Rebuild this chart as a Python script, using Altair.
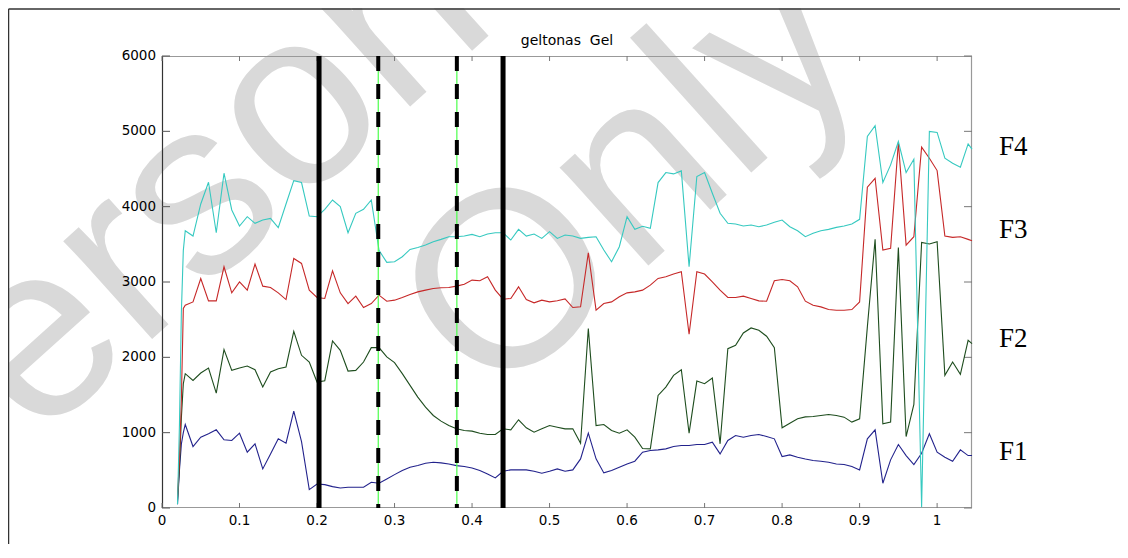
import altair as alt
import pandas as pd

# ---------------- data ----------------
times = [0.02, 0.0225, 0.025, 0.0275,
         0.03, 0.04, 0.05, 0.06, 0.07, 0.08, 0.09, 0.10, 0.11, 0.12,
         0.13, 0.14, 0.15, 0.16, 0.17, 0.18, 0.19, 0.20, 0.21, 0.22,
         0.23, 0.24, 0.25, 0.26, 0.27, 0.28, 0.29, 0.30, 0.31, 0.32,
         0.33, 0.34, 0.35, 0.36, 0.37, 0.38, 0.39, 0.40, 0.41, 0.42,
         0.43, 0.44, 0.45, 0.46, 0.47, 0.48, 0.49, 0.50, 0.51, 0.52,
         0.53, 0.54, 0.55, 0.56, 0.57, 0.58, 0.59, 0.60, 0.61, 0.62,
         0.63, 0.64, 0.65, 0.66, 0.67, 0.68, 0.69, 0.70, 0.71, 0.72,
         0.73, 0.74, 0.75, 0.76, 0.77, 0.78, 0.79, 0.80, 0.81, 0.82,
         0.83, 0.84, 0.85, 0.86, 0.87, 0.88, 0.89, 0.90, 0.91, 0.92,
         0.93, 0.94, 0.95, 0.96, 0.97, 0.98, 0.99, 1.00, 1.01, 1.02,
         1.03, 1.04, 1.045]

F1 = [50, 500, 850, 1000,
      1109, 816, 940, 985, 1038, 905, 896, 993, 741, 852,
      519, 718, 918, 860, 1286, 880, 244, 319, 310, 284,
      266, 275, 275, 275, 341, 328, 386, 443, 497, 541,
      563, 594, 608, 599, 585, 563, 550, 532, 497, 452,
      399, 488, 506, 506, 506, 488, 461, 488, 519, 488,
      506, 652, 993, 652, 466, 497, 541, 585, 621, 740,
      763, 772, 785, 816, 829, 829, 843, 843, 874, 718,
      896, 962, 940, 962, 976, 949, 918, 683, 705, 674,
      650, 630, 621, 608, 585, 577, 550, 506, 918, 1038,
      328, 639, 843, 696, 577, 727, 985, 741, 674, 621,
      772, 696, 696]

F2 = [100, 550, 1200, 1650,
      1783, 1694, 1792, 1858, 1526, 2102, 1827, 1858, 1885, 1836,
      1605, 1805, 1849, 1872, 2346, 2027, 1938, 1672, 1690, 2218,
      2093, 1818, 1827, 1938, 2129, 2129, 2005, 1929, 1783, 1628,
      1472, 1339, 1228, 1153, 1095, 1051, 1029, 1020, 993, 976,
      976, 1051, 1038, 1171, 1064, 1007, 1051, 1095, 1073, 1051,
      1051, 860, 2382, 1095, 1109, 1029, 993, 1038, 940, 790,
      785, 1495, 1605, 1761, 1836, 993, 1685, 1650, 1725, 852,
      2115, 2160, 2324, 2390, 2359, 2280, 2129, 1064, 1126, 1184,
      1210, 1215, 1228, 1242, 1228, 1206, 1140, 1184, 2404, 3566,
      1118, 1140, 3459, 949, 1375, 3526, 3504, 3535, 1761, 1938,
      1774, 2226, 2182]

F3 = [150, 650, 1450, 2650,
      2692, 2736, 3047, 2750, 2750, 3202, 2856, 3002, 2892, 3238,
      2945, 2927, 2856, 2767, 3313, 3246, 2892, 2794, 2781, 3149,
      2856, 2714, 2812, 2661, 2714, 2825, 2745, 2759, 2794, 2834,
      2869, 2892, 2914, 2923, 2927, 2945, 2971, 3025, 3016, 3069,
      2892, 2772, 2781, 2936, 2767, 2723, 2759, 2736, 2750, 2776,
      2661, 2670, 3388, 2626, 2714, 2736, 2803, 2856, 2869, 2892,
      2958, 3047, 3069, 3105, 3136, 2306, 3136, 3105, 3002, 2892,
      2794, 2794, 2812, 2781, 2750, 2745, 3016, 3034, 3016, 2936,
      2745, 2692, 2670, 2634, 2626, 2626, 2634, 2736, 4258, 4377,
      3424, 3446, 4852, 3490, 3601, 4790, 4643, 4479, 3610, 3592,
      3601, 3566, 3548]

F4 = [50, 1100, 2600, 3420,
      3681, 3610, 4036, 4324, 3654, 4444, 3956, 3743, 3867, 3779,
      3823, 3845, 3721, 4036, 4346, 4320, 3876, 3867, 3965, 4089,
      4000, 3654, 3912, 3965, 4089, 3420, 3260, 3269, 3335, 3433,
      3459, 3490, 3535, 3566, 3601, 3601, 3610, 3632, 3601, 3637,
      3654, 3654, 3557, 3699, 3610, 3637, 3579, 3668, 3579, 3623,
      3610, 3579, 3592, 3601, 3424, 3269, 3468, 3867, 3699, 3740,
      3712, 4320, 4453, 4435, 4475, 3202, 4400, 4453, 4178, 3912,
      3779, 3770, 3743, 3756, 3734, 3756, 3792, 3823, 3734, 3681,
      3601, 3646, 3681, 3699, 3725, 3743, 3770, 3832, 4932, 5074,
      4320, 4555, 4865, 4453, 4630, 10, 4998, 4985, 4643, 4577,
      4524, 4834, 4763]

series_names = ["F1", "F2", "F3", "F4"]
series_values = [F1, F2, F3, F4]
series_colors = ["#22228c", "#1e4d1e", "#c62828", "#36c9c0"]

label_names = ["F4", "F3", "F2", "F1"]
label_levels = [4795, 3689, 2250, 744]

solid_bounds = [0.2026, 0.44]
dashed_bounds = [0.279, 0.3804]

x_ticks = [0, 0.1, 0.2, 0.3, 0.4, 0.5, 0.6, 0.7, 0.8, 0.9, 1.0]
x_tick_labels = ["0", "0.1", "0.2", "0.3", "0.4", "0.5", "0.6", "0.7", "0.8", "0.9", "1"]
y_ticks = [0, 1000, 2000, 3000, 4000, 5000, 6000]
y_tick_labels = ["0", "1000", "2000", "3000", "4000", "5000", "6000"]

title_text = "geltonas\u00a0 Gel"
watermark_words = ["Personal", "Only"]

# ---------------- chart ----------------
W, H = 810, 452
xs = alt.Scale(domain=[0, 1.045], nice=False, zero=False)
ys = alt.Scale(domain=[0, 6000], nice=False, zero=False)
one = pd.DataFrame({"k": [0]})
tick_font = dict(font="DejaVu Sans", fontSize=13.5, color="black")

layers = []

# watermark
wm_common = dict(font="Liberation Sans", fontSize=250, color="#d9d9d9",
                 angle=318, align="left", baseline="alphabetic")
layers.append(alt.Chart(pd.DataFrame({"w": [watermark_words[0]]}))
              .mark_text(**wm_common)
              .encode(text="w:N", x=alt.value(-250), y=alt.value(499)))
layers.append(alt.Chart(pd.DataFrame({"w": [watermark_words[1]]}))
              .mark_text(**wm_common)
              .encode(text="w:N", x=alt.value(329), y=alt.value(351)))

# outer figure frame (top and left edges)
layers.append(alt.Chart(one).mark_rule(color="#333333", strokeWidth=1.5)
              .encode(x=alt.value(-153.5), x2=alt.value(W + 150), y=alt.value(-47)))
layers.append(alt.Chart(one).mark_rule(color="#333333", strokeWidth=1.5)
              .encode(x=alt.value(-153.5), y=alt.value(-47), y2=alt.value(H + 40)))

# plot box: left (dark), bottom, top, right (grey)
layers.append(alt.Chart(one).mark_rule(color="#999999", strokeWidth=1.2)
              .encode(x=alt.value(0), x2=alt.value(W), y=alt.value(0.5)))
layers.append(alt.Chart(one).mark_rule(color="#999999", strokeWidth=1.2)
              .encode(x=alt.value(W - 0.5), y=alt.value(0), y2=alt.value(H)))
layers.append(alt.Chart(one).mark_rule(color="#999999", strokeWidth=1.2)
              .encode(x=alt.value(0), x2=alt.value(W), y=alt.value(H - 0.5)))
layers.append(alt.Chart(one).mark_rule(color="#333333", strokeWidth=1.2)
              .encode(x=alt.value(0.5), y=alt.value(0), y2=alt.value(H)))

# inward ticks
xt = pd.DataFrame({"v": x_ticks, "lab": x_tick_labels})
yt = pd.DataFrame({"v": y_ticks, "lab": y_tick_labels})
layers.append(alt.Chart(yt).mark_rule(color="#555555")
              .encode(y=alt.Y("v:Q", scale=ys, axis=None), x=alt.value(0), x2=alt.value(8)))
layers.append(alt.Chart(yt).mark_rule(color="#777777")
              .encode(y=alt.Y("v:Q", scale=ys, axis=None), x=alt.value(W), x2=alt.value(W - 8)))
layers.append(alt.Chart(xt).mark_rule(color="#777777")
              .encode(x=alt.X("v:Q", scale=xs, axis=None), y=alt.value(H), y2=alt.value(H - 5)))
layers.append(alt.Chart(xt).mark_rule(color="#777777")
              .encode(x=alt.X("v:Q", scale=xs, axis=None), y=alt.value(0), y2=alt.value(5)))

# tick labels
layers.append(alt.Chart(yt).mark_text(align="right", baseline="middle", **tick_font)
              .encode(y=alt.Y("v:Q", scale=ys, axis=None), x=alt.value(-6), text="lab:N"))
layers.append(alt.Chart(xt).mark_text(align="center", baseline="top", **tick_font)
              .encode(x=alt.X("v:Q", scale=xs, axis=None), y=alt.value(H + 6), text="lab:N"))

# formant lines
for name, vals, col in zip(series_names, series_values, series_colors):
    df = pd.DataFrame({"t": times, "f": vals})
    layers.append(alt.Chart(df).mark_line(color=col, strokeWidth=1.1)
                  .encode(x=alt.X("t:Q", scale=xs, axis=None),
                          y=alt.Y("f:Q", scale=ys, axis=None)))

# segment boundaries
dd = pd.DataFrame({"b": dashed_bounds})
sd = pd.DataFrame({"b": solid_bounds})
layers.append(alt.Chart(dd).mark_rule(color="#4cff4c", strokeWidth=1.2)
              .encode(x=alt.X("b:Q", scale=xs, axis=None)))
layers.append(alt.Chart(dd).mark_rule(color="black", strokeWidth=4, strokeDash=[15, 13])
              .encode(x=alt.X("b:Q", scale=xs, axis=None)))
layers.append(alt.Chart(sd).mark_rule(color="black", strokeWidth=5)
              .encode(x=alt.X("b:Q", scale=xs, axis=None)))

# F labels
ld = pd.DataFrame({"lab": label_names, "lv": label_levels})
layers.append(alt.Chart(ld).mark_text(font="Liberation Serif", fontSize=27, align="left",
                                      baseline="middle", color="black")
              .encode(text="lab:N", y=alt.Y("lv:Q", scale=ys, axis=None), x=alt.value(W + 27)))

# title
layers.append(alt.Chart(pd.DataFrame({"tt": [title_text]}))
              .mark_text(font="DejaVu Sans", fontSize=14, align="center",
                         baseline="alphabetic", color="black")
              .encode(text="tt:N", x=alt.value(W / 2), y=alt.value(-11)))

chart = alt.layer(*layers).properties(
    width=W, height=H,
    autosize=alt.AutoSizeParams(type="none"),
    padding={"left": 154, "top": 48, "right": 148, "bottom": 36},
    background="white",
).configure_view(stroke=None)

chart.save("out.html", embed_options={"renderer": "svg", "actions": False})
